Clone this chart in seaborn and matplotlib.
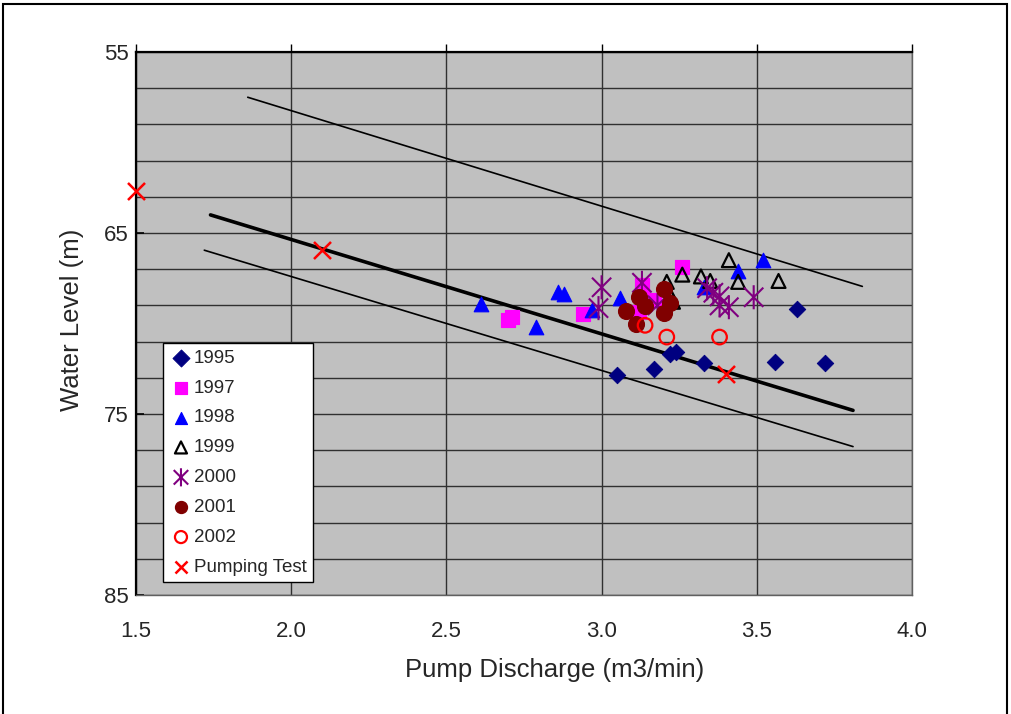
import numpy as np
import pandas as pd
import matplotlib
matplotlib.use("Agg")
import matplotlib.pyplot as plt
from matplotlib.path import Path
from matplotlib.patches import Rectangle
from matplotlib.ticker import FixedLocator
import seaborn as sns

# data (x = pump discharge m3/min, y = water level m)
x_1995 = [3.05, 3.17, 3.22, 3.24, 3.33, 3.56, 3.72, 3.63]
y_1995 = [72.85, 72.5, 71.7, 71.6, 72.2, 72.1, 72.2, 69.2]

x_1997 = [2.70, 2.71, 2.94, 3.12, 3.13, 3.17, 3.26]
y_1997 = [69.8, 69.65, 69.45, 69.35, 67.9, 68.7, 66.9]

x_1998 = [2.61, 2.79, 2.86, 2.88, 2.97, 3.06, 3.33, 3.44, 3.52]
y_1998 = [68.9, 70.2, 68.25, 68.35, 69.25, 68.6, 68.0, 67.1, 66.5]

x_1999 = [3.21, 3.22, 3.23, 3.26, 3.32, 3.35, 3.41, 3.44, 3.57]
y_1999 = [67.7, 68.4, 68.8, 67.3, 67.4, 67.65, 66.5, 67.7, 67.65]

x_2000 = [3.00, 2.99, 3.13, 3.18, 3.34, 3.36, 3.38, 3.38, 3.41, 3.49]
y_2000 = [68.0, 69.15, 67.75, 69.0, 68.05, 68.3, 68.5, 69.0, 69.1, 68.55]

x_2001 = [3.08, 3.11, 3.12, 3.14, 3.20, 3.22, 3.20]
y_2001 = [69.3, 70.0, 68.55, 69.05, 68.1, 68.85, 69.4]

x_2002 = [3.14, 3.21, 3.38]
y_2002 = [70.1, 70.75, 70.75]

x_test = [1.50, 2.10, 3.40]
y_test = [62.7, 65.95, 72.8]

# trend line and envelope
x_trend = [1.74, 3.81]
y_trend = [64.0, 74.8]
x_upper = [1.86, 3.84]
y_upper = [57.5, 67.95]
x_lower = [1.72, 3.81]
y_lower = [65.95, 76.8]

x_ticks = [1.5, 2.0, 2.5, 3.0, 3.5, 4.0]
y_ticks = [55, 65, 75, 85]

sns.set_style("whitegrid", {"axes.facecolor": "#c0c0c0", "grid.color": "#303030",
                            "axes.edgecolor": "black"})
plt.rcParams['font.family'] = ['Liberation Sans', 'DejaVu Sans']

fig = plt.figure(figsize=(10.11, 7.14), dpi=100)
ax = fig.add_axes([136 / 1011, 1 - 595 / 714, 776 / 1011, 543 / 714])

star = Path([(0, -1), (0, 1), (-0.8, -0.8), (0.8, 0.8), (-0.8, 0.8), (0.8, -0.8)],
            [Path.MOVETO, Path.LINETO, Path.MOVETO, Path.LINETO, Path.MOVETO, Path.LINETO])

series = [
    ("1995", x_1995, y_1995, dict(marker="D", s=70, color="#000080", edgecolor="#000080")),
    ("1997", x_1997, y_1997, dict(marker="s", s=110, color="#ff00ff", edgecolor="#ff00ff")),
    ("1998", x_1998, y_1998, dict(marker="^", s=110, color="#0000ff", edgecolor="#0000ff")),
    ("1999", x_1999, y_1999, dict(marker="^", s=100, facecolor="none", edgecolor="black", linewidth=1.6)),
    ("2000", x_2000, y_2000, dict(marker=star, s=300, facecolor="none", edgecolor="#800080", linewidth=1.5)),
    ("2001", x_2001, y_2001, dict(marker="o", s=130, color="#800000", edgecolor="#800000")),
    ("2002", x_2002, y_2002, dict(marker="o", s=110, facecolor="none", edgecolor="#ff0000", linewidth=1.6)),
    ("Pumping Test", x_test, y_test, dict(marker="x", s=150, color="#ff0000", linewidth=1.8)),
]

for label, xs, ys, kw in series:
    df = pd.DataFrame({"x": xs, "y": ys})
    sns.scatterplot(data=df, x="x", y="y", ax=ax, label=label, zorder=5, clip_on=False, **kw)

sns.lineplot(x=x_trend, y=y_trend, ax=ax, color="black", linewidth=2.6, zorder=4)
sns.lineplot(x=x_upper, y=y_upper, ax=ax, color="black", linewidth=1.2, zorder=4)
sns.lineplot(x=x_lower, y=y_lower, ax=ax, color="black", linewidth=1.2, zorder=4)

ax.set_xlim(1.5, 4.0)
ax.set_ylim(85, 55)
ax.set_xticks(x_ticks)
ax.set_xticklabels([f"{v:.1f}" for v in x_ticks])
ax.set_yticks(y_ticks)
ax.yaxis.set_minor_locator(FixedLocator(np.arange(57, 85, 2)))
ax.grid(True, which="both", axis="y", color="#303030", linewidth=1.0)
ax.grid(True, which="major", axis="x", color="#303030", linewidth=1.0)
ax.set_axisbelow(True)

ax.tick_params(axis="x", top=True, bottom=False, labeltop=False, labelbottom=True,
               direction="out", length=6, width=1, color="black", pad=13, labelsize=16)
ax.tick_params(axis="y", which="major", left=True, direction="in", length=6, width=1.2,
               color="black", pad=5, labelsize=16)
ax.tick_params(axis="y", which="minor", length=0)

for side in ["top", "left"]:
    ax.spines[side].set_color("black")
    ax.spines[side].set_linewidth(1.6)
for side in ["right", "bottom"]:
    ax.spines[side].set_color("#606060")
    ax.spines[side].set_linewidth(1.0)

ax.set_xlabel("Pump Discharge (m3/min)", fontsize=18.5)
ax.set_ylabel("Water Level (m)", fontsize=18.5)
ax.xaxis.set_label_coords((555 - 136) / 776, (595 - 658) / 543)
ax.yaxis.set_label_coords((84 - 136) / 776, (595 - 320) / 543)

leg = ax.legend(loc="upper left", bbox_to_anchor=(0.035, 0.464), fontsize=13.5,
                frameon=True, fancybox=False, framealpha=1, facecolor="white",
                edgecolor="black", borderpad=0.35, labelspacing=0.68,
                handletextpad=0.1, handlelength=1.2, borderaxespad=0)
leg.get_frame().set_linewidth(1.0)
for h, (label, _, _, _) in zip(leg.legend_handles, series):
    h.set_sizes([170 if label == "2000" else 75])

fig.patches.append(Rectangle((3 / 1011, -0.01), 1004 / 1011, 1 - 4 / 714 + 0.01,
                             transform=fig.transFigure, fill=False,
                             edgecolor="black", linewidth=1.5))

fig.savefig("out.png", dpi=100)
